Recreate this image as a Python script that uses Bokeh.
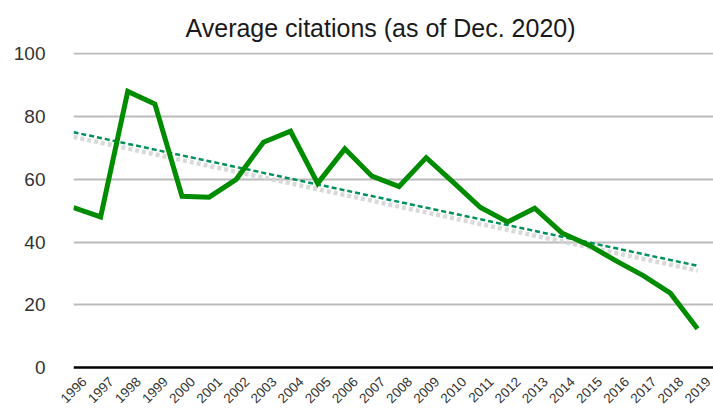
import numpy as np
from bokeh.plotting import figure
from bokeh.models import Range1d, FixedTicker, ColumnDataSource, Grid
from bokeh.embed import file_html
from bokeh.resources import INLINE

years = list(range(1996, 2020))
avg_citations = [51.0, 48.0, 88.0, 84.0, 54.6, 54.3, 60.0, 71.8, 75.3, 58.7, 69.7, 61.0,
                 57.7, 66.9, 59.0, 51.0, 46.4, 50.8, 42.9, 39.0, 34.0, 29.3, 23.7, 12.4]
y_ticks = [0, 20, 40, 60, 80, 100]
title_text = "Average citations (as of Dec. 2020)"

# linear trend line computed from the series
slope, intercept = np.polyfit(years, avg_citations, 1)
trend = [slope * y + intercept for y in years]

FONT = "Liberation Sans"
RIGHT_PAD = 0.59    # blank room right of the last year (years)
LABEL_SHIFT = 0.4   # nudge of the rotated year labels to the right (years)

p = figure(width=713, height=410, output_backend="svg", toolbar_location=None,
           x_range=Range1d(years[0], years[-1] + RIGHT_PAD),
           y_range=Range1d(-0.6, 100.4),
           min_border_left=73, min_border_right=0, min_border_top=0, min_border_bottom=0)
p.extra_x_ranges = {"lab": Range1d(years[0] - LABEL_SHIFT,
                                   years[-1] + RIGHT_PAD - LABEL_SHIFT)}

p.title.text = title_text
p.title.align = "left"
p.title.text_font = FONT
p.title.text_font_size = "25px"
p.title.text_font_style = "normal"
p.title.text_color = "#1a1a1a"
p.title.offset = 112
p.title.standoff = 22

p.outline_line_color = None
p.background_fill_color = "white"
p.border_fill_color = "white"

# y axis
p.yaxis.ticker = FixedTicker(ticks=y_ticks)
p.yaxis.axis_line_color = None
p.yaxis.major_tick_line_color = None
p.yaxis.minor_tick_line_color = None
p.yaxis.major_tick_out = 0
p.yaxis.minor_tick_out = 0
p.yaxis.major_label_text_font = FONT
p.yaxis.major_label_text_font_size = "19px"
p.yaxis.major_label_text_color = "#333333"
p.yaxis.major_label_standoff = 28

# x axis: rotated year labels only
xa = p.xaxis[0]
xa.x_range_name = "lab"
xa.ticker = FixedTicker(ticks=years)
xa.axis_line_color = None
xa.major_tick_line_color = None
xa.minor_tick_line_color = None
xa.major_tick_out = 0
xa.minor_tick_out = 0
xa.major_label_orientation = np.pi / 4
xa.major_label_text_font = FONT
xa.major_label_text_font_size = "13.5px"
xa.major_label_text_color = "#333333"
xa.major_label_standoff = 10

p.xgrid.grid_line_color = None
p.ygrid.ticker = FixedTicker(ticks=y_ticks[1:])
p.ygrid.grid_line_color = "#bbbbbb"
p.ygrid.grid_line_width = 2
p.ygrid.bounds = (years[0], years[-1])

# black zero line spanning the years
zero_grid = Grid(dimension=1, ticker=FixedTicker(ticks=[y_ticks[0]]),
                 grid_line_color="black", grid_line_width=2.5,
                 bounds=(years[0], years[-1]))
p.add_layout(zero_grid)

src = ColumnDataSource(dict(x=years, y=avg_citations, t=trend,
                            ts=[v - 1.5 for v in trend]))

# trend shadow
p.line("x", "ts", source=src, line_color="#d2d2d2", line_width=4.5, line_dash="4 3",
       line_alpha=0.85)
# trend line
p.line("x", "t", source=src, line_color="#00915a", line_width=2.5, line_dash="5 3")
# main series
p.line("x", "y", source=src, line_color="#008c00", line_width=5, line_join="miter")

open("out.html", "w").write(file_html(p, INLINE))
